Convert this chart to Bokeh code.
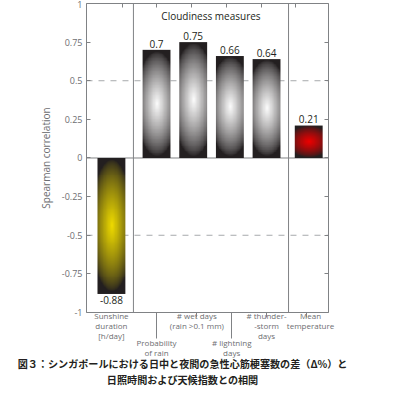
import numpy as np
from bokeh.plotting import figure
from bokeh.models import Range1d, LinearAxis, FixedTicker, ColumnDataSource
from bokeh.core.properties import value
from bokeh.embed import file_html
from bokeh.resources import INLINE

# ---- data ----
categories = ["Sunshine\nduration\n[h/day]", "Probability\nof rain",
              "# wet days\n(rain >0.1 mm)", "# lightning\ndays",
              "# thunder-\n-storm\ndays", "Mean\ntemperature"]
correlations = [-0.88, 0.70, 0.75, 0.66, 0.64, 0.21]
bar_x = [0.77, 2.0, 3.0, 4.0, 5.0, 6.15]
label_x = [0.77, 2.0, 3.1, 4.05, 5.0, 6.2]
label_row = [0, 1, 0, 1, 0, 0]
center_colors = [(238, 218, 0), (252, 252, 252), (252, 252, 252),
                 (252, 252, 252), (252, 252, 252), (238, 0, 0)]
y_ticks = [-1, -0.75, -0.5, -0.25, 0, 0.25, 0.5, 0.75, 1]
y_tick_labels = ["-1", "-0.75", "-0.5", "-0.25", "0", "0.25", "0.5", "0.75", "1"]
top_ticks = [1.07, 2.0, 2.95, 3.9, 4.85, 5.8]
bottom_long_ticks = [2.0, 4.05]
bottom_short_ticks = [3.1, 5.0, 6.1]
dividers = [1.37, 5.6]
box_x = [0.09, 6.69]
group_title = "Cloudiness measures"
y_title = "Spearman correlation"
caption = ["図３：シンガポールにおける日中と夜間の急性心筋梗塞数の差（Δ%）と",
           "日照時間および天候指数との相関"]

GRAY = "#808285"
TXT = "#6d6e71"
DARK = "#231f20"
FONT = "Open Sans"
BAR_W = 0.76

# ---- gradient images ----
def gradient(center, nx=48, ny=140, rx=1.5, ry=0.97, p=0.72):
    u = np.linspace(-1, 1, nx)
    v = np.linspace(-1, 1, ny)
    U, V = np.meshgrid(u, v)
    d = np.sqrt((U / rx) ** 2 + (V / ry) ** 2)
    t = np.clip(1 - d, 0, 1) ** p
    dark = np.array([35, 31, 32], dtype=float)
    c = np.array(center, dtype=float)
    rgb = dark + (c - dark) * t[..., None]
    img = np.empty((ny, nx), dtype=np.uint32)
    view = img.view(dtype=np.uint8).reshape((ny, nx, 4))
    view[..., 0] = rgb[..., 0]
    view[..., 1] = rgb[..., 1]
    view[..., 2] = rgb[..., 2]
    view[..., 3] = 255
    return img

vals = np.array(correlations)
src = ColumnDataSource(dict(
    image=[gradient(c) for c in center_colors],
    x=[b - BAR_W / 2 for b in bar_x],
    y=list(np.minimum(vals, 0)),
    dw=[BAR_W] * len(vals),
    dh=list(np.abs(vals)),
))

p = figure(width=400, height=395, x_range=Range1d(-2.255, 8.653),
           y_range=Range1d(-1.5372, 1.0194), output_backend="svg",
           toolbar_location=None, x_axis_location=None, y_axis_location=None,
           min_border=0)
p.background_fill_color = "white"
p.border_fill_color = "white"
p.outline_line_color = None
p.xgrid.visible = False
p.ygrid.visible = False

x0, x1 = box_x
# dashed reference lines, zero line, group dividers
p.segment(x0=[x0, x0], y0=[-0.5, 0.5], x1=[x1, x1], y1=[-0.5, 0.5],
          line_color="#a7a9ac", line_dash="6 6", line_width=1)
p.segment(x0=[x0], y0=[0], x1=[x1], y1=[0], line_color=GRAY, line_width=1)
p.segment(x0=dividers, y0=[-1] * len(dividers), x1=dividers,
          y1=[1] * len(dividers), line_color=GRAY, line_width=1)

p.image_rgba(image="image", x="x", y="y", dw="dw", dh="dh", source=src)

# value labels
pos = vals >= 0
p.text(x=list(np.array(bar_x)[pos]), y=list(vals[pos] + 0.015),
       text=[f"{v:g}" for v in vals[pos]], text_align="center",
       text_baseline="bottom", text_font=value(FONT), text_font_size="10px",
       text_color=DARK)
p.text(x=list(np.array(bar_x)[~pos]), y=list(vals[~pos] - 0.012),
       text=[f"{v:g}" for v in vals[~pos]], text_align="center",
       text_baseline="top", text_font=value(FONT), text_font_size="10px",
       text_color=DARK)

p.text(x=[(dividers[0] + dividers[1]) / 2], y=[0.918], text=[group_title],
       text_align="center", text_baseline="alphabetic", text_font=value(FONT),
       text_font_size="10px", text_color=DARK)

# axes drawn at fixed locations around the box
def style(ax, tin, tout):
    ax.major_tick_in = tin
    ax.major_tick_out = tout
    ax.minor_tick_line_color = None
    ax.axis_line_color = GRAY
    ax.major_tick_line_color = GRAY

left = LinearAxis(ticker=FixedTicker(ticks=y_ticks), bounds=(-1, 1),
                  fixed_location=x0)
style(left, 4, 0)
left.major_label_overrides = {t: l for t, l in zip(y_ticks, y_tick_labels)}
left.major_label_text_color = TXT
left.major_label_text_font = FONT
left.major_label_text_font_size = "9px"
left.major_label_standoff = 4
left.axis_label = y_title
left.axis_label_text_font = FONT
left.axis_label_text_font_size = "10px"
left.axis_label_text_font_style = "normal"
left.axis_label_text_color = TXT
left.axis_label_standoff = 6
p.add_layout(left, "left")

right_ticks = [-1, -0.75, -0.5, -0.25, 0, 0.25, 0.5, 0.75, 1]
right = LinearAxis(ticker=FixedTicker(ticks=right_ticks), bounds=(-1, 1),
                   fixed_location=x1)
style(right, 4, 0)
right.major_label_overrides = {t: "" for t in right_ticks}
p.add_layout(right, "right")

top = LinearAxis(ticker=FixedTicker(ticks=top_ticks), bounds=(x0, x1),
                 fixed_location=1)
style(top, 4, 0)
top.major_label_overrides = {t: "" for t in top_ticks}
p.add_layout(top, "above")

bottom = LinearAxis(ticker=FixedTicker(ticks=bottom_long_ticks,
                                       minor_ticks=bottom_short_ticks),
                    bounds=(x0, x1), fixed_location=-1)
style(bottom, 0, 26)
bottom.minor_tick_in = 0
bottom.minor_tick_out = 5
bottom.minor_tick_line_color = GRAY
bottom.major_label_overrides = {t: "" for t in bottom_long_ticks}
p.add_layout(bottom, "below")

# category labels below the axis
row_y = [-0.985, -1.16]
src_lab = ColumnDataSource(dict(
    x=label_x, y=[row_y[r] for r in label_row], text=categories))
p.text(x="x", y="y", text="text", source=src_lab, text_align="center",
       text_baseline="top", text_font=value(FONT), text_font_size="8px",
       text_color=TXT, text_line_height=0.9)

# caption
cap_y = [-1.33, -1.435]
p.text(x=[2.71] * len(caption), y=cap_y, text=caption, text_align="center",
       text_baseline="middle", text_font=value("Noto Sans CJK JP"),
       text_font_size="10.1px", text_font_style="bold", text_color=DARK)

open("out.html", "w").write(file_html(p, INLINE))
